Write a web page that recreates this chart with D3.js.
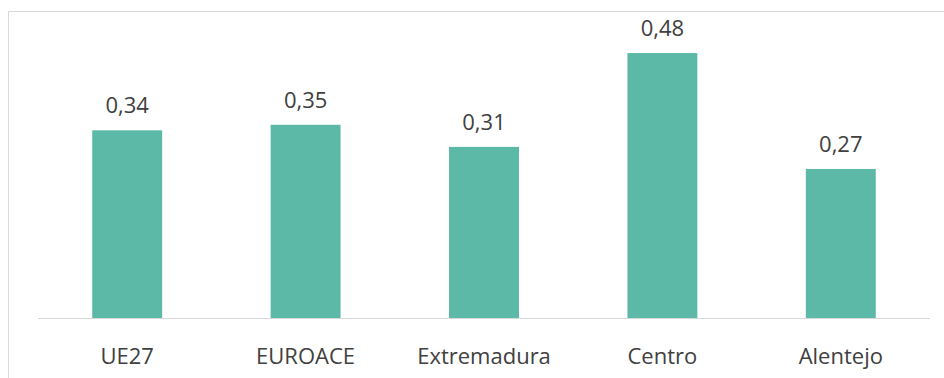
<!DOCTYPE html>
<html>
<head>
<meta charset="utf-8">
<script src="https://cdn.jsdelivr.net/npm/d3@7"></script>
<style>
  body { margin: 0; background: #fff; }
  text { font-family: "Open Sans", "Noto Sans", sans-serif; fill: #404040; }
</style>
</head>
<body>
<div id="chart"></div>
<script>
(function(d3) {
  'use strict';

  var categories = ['UE27', 'EUROACE', 'Extremadura', 'Centro', 'Alentejo'];
  var values = [0.34, 0.35, 0.31, 0.48, 0.27];
  var labels = ['0,34', '0,35', '0,31', '0,48', '0,27'];

  var width = 944;
  var height = 378;
  var left = 38, right = 930, base = 318;

  var svg = d3.select('#chart')
    .append('svg')
    .attr('width', width)
    .attr('height', height);

  // outer frame (only top and left visible)
  svg.append('line')
    .attr('x1', 8.5).attr('x2', 8.5)
    .attr('y1', 11.5).attr('y2', height)
    .attr('stroke', '#d9d9d9');
  svg.append('line')
    .attr('x1', 8.5).attr('x2', width)
    .attr('y1', 11.5).attr('y2', 11.5)
    .attr('stroke', '#d9d9d9');

  var x = d3.scaleBand()
    .domain(categories)
    .range([left, right])
    .paddingInner(0.608)
    .paddingOuter(0.304);

  var y = d3.scaleLinear()
    .domain([0, 0.5])
    .range([base, base - 276]);

  svg.selectAll('rect.bar')
    .data(values)
    .enter()
    .append('rect')
    .attr('class', 'bar')
    .attr('x', function(d, i) { return x(categories[i]); })
    .attr('width', x.bandwidth())
    .attr('y', function(d) { return y(d); })
    .attr('height', function(d) { return y(0) - y(d); })
    .attr('fill', '#5cb9a8');

  svg.append('line')
    .attr('x1', left).attr('x2', right)
    .attr('y1', base + 0.5).attr('y2', base + 0.5)
    .attr('stroke', '#d9d9d9');

  svg.selectAll('text.val')
    .data(values)
    .enter()
    .append('text')
    .attr('class', 'val')
    .attr('x', function(d, i) { return x(categories[i]) + x.bandwidth() / 2; })
    .attr('y', function(d) { return y(d) - 17; })
    .attr('text-anchor', 'middle')
    .style('font-size', '22px')
    .text(function(d, i) { return labels[i]; });

  svg.selectAll('text.cat')
    .data(categories)
    .enter()
    .append('text')
    .attr('class', 'cat')
    .attr('x', function(d) { return x(d) + x.bandwidth() / 2; })
    .attr('y', 364)
    .attr('text-anchor', 'middle')
    .style('font-size', '22px')
    .text(function(d) { return d; });

})(window.d3);
</script>
</body>
</html>
